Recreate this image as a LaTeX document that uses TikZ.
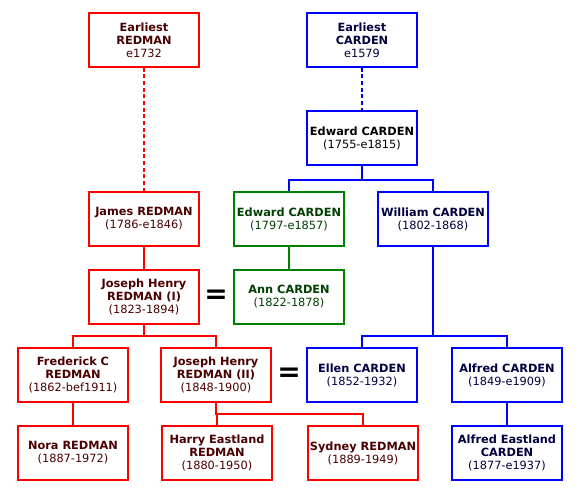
\documentclass[tikz,border=0pt]{standalone}
\usepackage{fontspec}
\setmainfont{DejaVu Sans}
\definecolor{redline}{HTML}{FF0000}
\definecolor{blueline}{HTML}{0000FF}
\definecolor{greenline}{HTML}{008000}
\definecolor{redtext}{HTML}{4A0000}
\definecolor{bluetext}{HTML}{00003F}
\definecolor{greentext}{HTML}{003F00}
\begin{document}
\begin{tikzpicture}[x=0.75pt,y=-0.75pt,line width=1.5pt,
	person/.style={rectangle, draw, fill=white, minimum width=83pt, minimum height=40pt, inner sep=1pt, align=center, font=\fontsize{8.5}{9.75}\selectfont},
	redbox/.style={person, draw=redline, text=redtext},
	bluebox/.style={person, draw=blueline, text=bluetext},
	greenbox/.style={person, draw=greenline, text=greentext},
	married/.style={font=\fontsize{21}{21}\selectfont\bfseries}]
	\useasboundingbox (0,0) rectangle (581,494);
	\node (ER)  at (144, 40)	[redbox]	{\textbf{Earliest}\\\textbf{REDMAN}\\e1732};
	\node (EC)  at (362, 40)	[bluebox]	{\textbf{Earliest}\\\textbf{CARDEN}\\e1579};
	\node (EdA) at (362,138)	[bluebox, text=black]	{\textbf{Edward CARDEN}\\(1755-e1815)};
	\node (EdB) at (289,219)	[greenbox]	{\textbf{Edward CARDEN}\\(1797-e1857)};
	\node (Wil) at (433,219)	[bluebox]	{\textbf{William CARDEN}\\(1802-1868)};
	\node (Jam) at (144,219)	[redbox]	{\textbf{James REDMAN}\\(1786-e1846)};
	\node (JoA) at (144,297)	[redbox]	{\textbf{Joseph Henry}\\\textbf{REDMAN (I)}\\(1823-1894)};
	\node (Ann) at (289,297)	[greenbox]	{\textbf{Ann CARDEN}\\(1822-1878)};
	\node (Fre) at ( 73,375)	[redbox]	{\textbf{Frederick C}\\\textbf{REDMAN}\\(1862-bef1911)};
	\node (JoB) at (216,375)	[redbox]	{\textbf{Joseph Henry}\\\textbf{REDMAN (II)}\\(1848-1900)};
	\node (Ell) at (362,375)	[bluebox]	{\textbf{Ellen CARDEN}\\(1852-1932)};
	\node (AlA) at (507,375)	[bluebox]	{\textbf{Alfred CARDEN}\\(1849-e1909)};
	\node (Nor) at ( 73,453)	[redbox]	{\textbf{Nora REDMAN}\\(1887-1972)};
	\node (Har) at (217,453)	[redbox]	{\textbf{Harry Eastland}\\\textbf{REDMAN}\\(1880-1950)};
	\node (Syd) at (363,453)	[redbox]	{\textbf{Sydney REDMAN}\\(1889-1949)};
	\node (AlB) at (507,453)	[bluebox]	{\textbf{Alfred Eastland}\\\textbf{CARDEN}\\(1877-e1937)};
	\node (m1)  at (216,297)	[married]	{=};
	\node (m2)  at (289,375)	[married]	{=};
	\draw [redline, dash pattern=on 3pt off 2pt] (ER) -- (Jam);
	\draw [blueline, dash pattern=on 3pt off 2pt] (EC) -- (EdA);
	\draw [blueline] (EdA.south) -- ++(0,14) -| (EdB.north);
	\draw [blueline] (EdA.south) -- ++(0,14) -| (Wil.north);
	\draw [greenline] (EdB) -- (Ann);
	\draw [redline] (Jam) -- (JoA);
	\draw [redline] (JoA.south) -- ++(0,11) -| (Fre.north);
	\draw [redline] (JoA.south) -- ++(0,11) -| (JoB.north);
	\draw [redline] (Fre) -- (Nor);
	\draw [redline] (JoB.south) -- ++(0,11) -| (Har.north);
	\draw [redline] (JoB.south) -- ++(0,11) -| (Syd.north);
	\draw [blueline] (Wil.south) -- (Wil.south |- 0,336) -| (Ell.north);
	\draw [blueline] (Wil.south) -- (Wil.south |- 0,336) -| (AlA.north);
	\draw [blueline] (AlA) -- (AlB);
\end{tikzpicture}
\end{document}
